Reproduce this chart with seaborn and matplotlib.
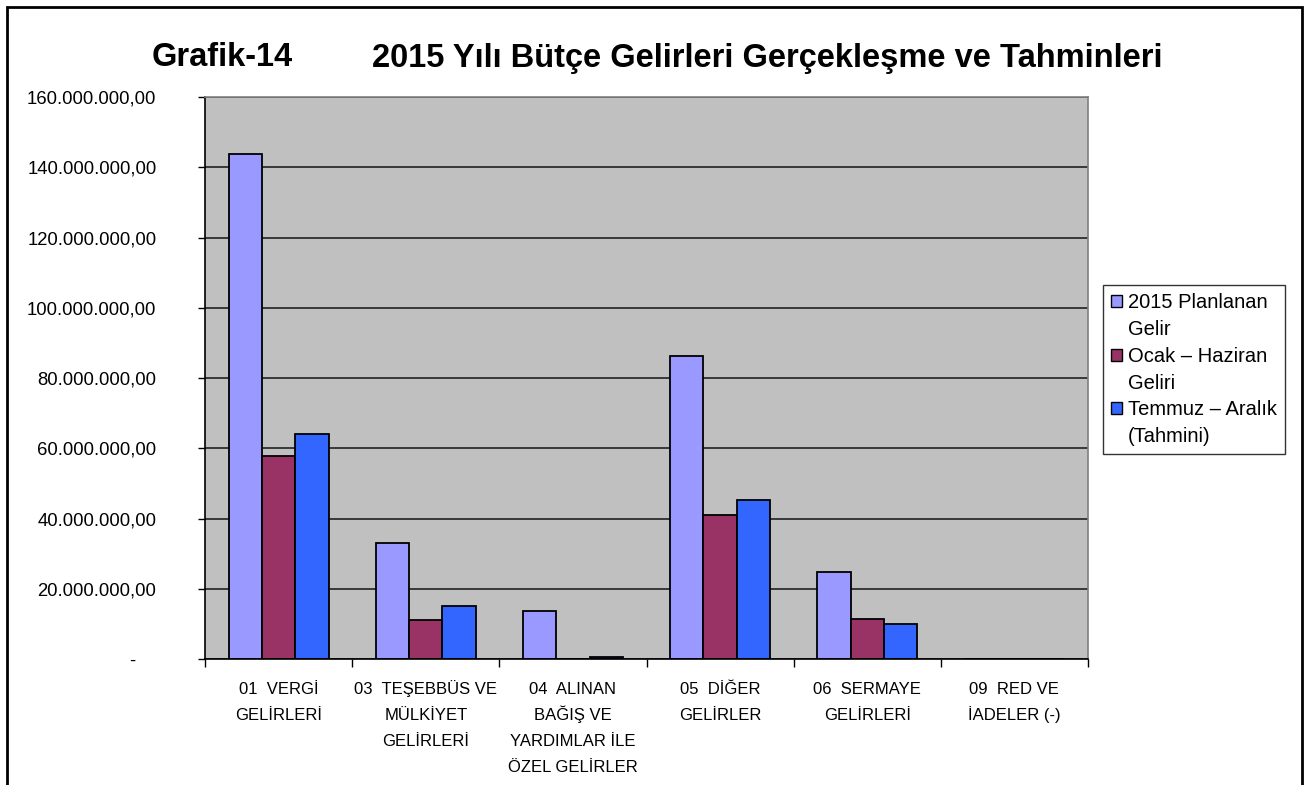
import pandas as pd
import matplotlib
matplotlib.use("Agg")
import matplotlib.pyplot as plt
from matplotlib.patches import Rectangle, Patch
from matplotlib.ticker import FixedLocator, FuncFormatter
import seaborn as sns

# values (TL)
kategoriler = [
    "01  VERGİ\nGELİRLERİ",
    "03  TEŞEBBÜS VE\nMÜLKİYET\nGELİRLERİ",
    "04  ALINAN\nBAĞIŞ VE\nYARDIMLAR İLE\nÖZEL GELİRLER",
    "05  DİĞER\nGELİRLER",
    "06  SERMAYE\nGELİRLERİ",
    "09  RED VE\nİADELER (-)",
]
planlanan = [143_800_000, 33_000_000, 13_700_000, 86_300_000, 24_800_000, 0]
ocak_haziran = [57_800_000, 11_100_000, 0, 41_000_000, 11_500_000, 0]
temmuz_aralik = [64_100_000, 15_200_000, 500_000, 45_200_000, 10_000_000, 0]

seriler = ["2015 Planlanan\nGelir", "Ocak – Haziran\nGeliri", "Temmuz – Aralık\n(Tahmini)"]
renkler = ["#9999FF", "#993366", "#3366FF"]
y_ticks = [0, 20e6, 40e6, 60e6, 80e6, 100e6, 120e6, 140e6, 160e6]

rows = []
for seri, vals in zip(seriler, [planlanan, ocak_haziran, temmuz_aralik]):
    for kat, v in zip(kategoriler, vals):
        rows.append({"Kategori": kat, "Seri": seri, "Tutar": v})
df = pd.DataFrame(rows)

sns.set_style("white")
plt.rcParams["font.family"] = ["Liberation Sans", "DejaVu Sans"]
plt.rcParams["text.color"] = "black"
plt.rcParams["xtick.color"] = "black"
plt.rcParams["ytick.color"] = "black"

fig = plt.figure(figsize=(13.1, 7.85), dpi=100)
ax = fig.add_axes([205 / 1310, 1 - 659 / 785, (1088 - 205) / 1310, (659 - 97) / 785])
ax.set_facecolor("#C0C0C0")

sns.barplot(
    data=df,
    x="Kategori",
    y="Tutar",
    hue="Seri",
    palette=renkler,
    saturation=1,
    width=0.68,
    gap=0,
    edgecolor="black",
    linewidth=1.3,
    legend=False,
    ax=ax,
)

ax.set_ylim(0, 160e6)
ax.set_xlim(-0.5, len(kategoriler) - 0.5)
ax.yaxis.set_major_locator(FixedLocator(y_ticks))


def fmt(v, pos):
    if v == 0:
        return "-    "
    s = f"{v:,.2f}"
    return s.replace(",", "X").replace(".", ",").replace("X", ".")


ax.yaxis.set_major_formatter(FuncFormatter(fmt))
ax.yaxis.grid(True, color="#222222", linewidth=1.2)
ax.set_axisbelow(True)

ax.tick_params(axis="y", which="major", length=5, width=1, direction="out",
               labelsize=13.3, pad=30, left=True)

# category labels: one text per line so the line pitch stays even
ax.set_xticks(range(len(kategoriler)))
ax.set_xticklabels([""] * len(kategoriler))
ax.set_xticks([i - 0.5 for i in range(len(kategoriler) + 1)], minor=True)
ax.tick_params(axis="x", which="major", length=0)
ax.tick_params(axis="x", which="minor", length=6, width=1, direction="out", bottom=True)
for i, kat in enumerate(kategoriler):
    for k, satir in enumerate(kat.split("\n")):
        ax.annotate(satir, xy=(i, 0), xycoords=ax.get_xaxis_transform(),
                    xytext=(0, -25 - 18.9 * k), textcoords="offset points",
                    ha="center", va="baseline", fontsize=12)

ax.set_xlabel("")
ax.set_ylabel("")

for side in ["left", "bottom"]:
    ax.spines[side].set_color("black")
    ax.spines[side].set_linewidth(1.2)
for side in ["top", "right"]:
    ax.spines[side].set_color("#808080")
    ax.spines[side].set_linewidth(1.2)

# legend in the Excel manner: the box sits on the first line of each label
handles, labels = [], []
for seri, renk in zip(seriler, renkler):
    ilk, ikinci = seri.split("\n")
    handles.append(Patch(facecolor=renk, edgecolor="black", linewidth=1))
    labels.append(ilk)
    handles.append(Patch(facecolor="none", edgecolor="none"))
    labels.append(ikinci)

leg = fig.legend(
    handles,
    labels,
    loc="upper left",
    bbox_to_anchor=(1103 / 1310, 1 - 285 / 785),
    fontsize=14.5,
    frameon=True,
    fancybox=False,
    edgecolor="black",
    handlelength=0.55,
    handleheight=0.55,
    handletextpad=0.3,
    labelspacing=0.39,
    borderpad=0.4,
    borderaxespad=0,
)
leg.get_frame().set_linewidth(1)

fig.text(222 / 1310, 1 - 58 / 785, "Grafik-14", fontsize=23.5, fontweight="bold",
         ha="center", va="center")
fig.text(767 / 1310, 1 - 58 / 785, "2015 Yılı Bütçe Gelirleri Gerçekleşme ve Tahminleri",
         fontsize=23.5, fontweight="bold", ha="center", va="center")

fig.patches.append(Rectangle((7 / 1310, -0.05), (1302 - 7) / 1310, 1.05 - 7 / 785,
                             transform=fig.transFigure, fill=False,
                             edgecolor="black", linewidth=2))

fig.savefig("out.png", dpi=100)
